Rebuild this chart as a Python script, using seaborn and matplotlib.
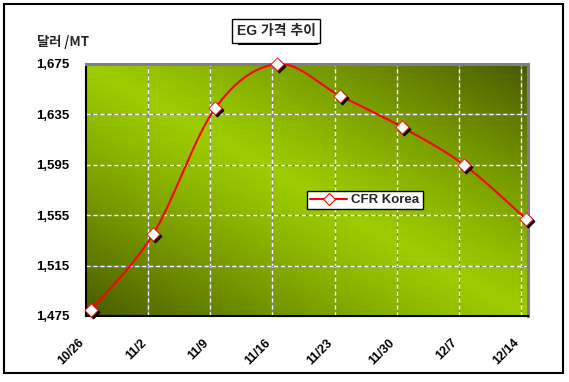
import numpy as np
import pandas as pd
import matplotlib
matplotlib.use("Agg")
import matplotlib.pyplot as plt
import matplotlib.transforms as mtransforms
from matplotlib.lines import Line2D
from matplotlib.patches import Rectangle
import seaborn as sns

# ---- data ----
dates = ["10/26", "11/2", "11/9", "11/16", "11/23", "11/30", "12/7", "12/14"]
cfr_korea = [1480, 1540, 1640, 1675, 1650, 1625, 1595, 1552]
y_ticks = [1475, 1515, 1555, 1595, 1635, 1675]
series_name = "CFR Korea"
title_text = "EG 가격 추이"
unit_text = "달러 /MT"

sns.set_theme(style="white")
plt.rcParams['font.family'] = ['Liberation Sans', 'Noto Sans CJK KR', 'DejaVu Sans']

W, H = 569, 382
fig = plt.figure(figsize=(W / 100, H / 100), dpi=100)
fig.patch.set_facecolor("white")

L, R, T, B = 86, 528, 64, 316
ax = fig.add_axes([L / W, 1 - B / H, (R - L) / W, (B - T) / H])

xs = np.arange(len(dates), dtype=float)
ys = np.array(cfr_korea, dtype=float)

x_left, x_right = -0.08, 7.03
ax.set_xlim(x_left, x_right)
ax.set_ylim(y_ticks[0], y_ticks[-1])

# gradient background
bright = np.array([0x9C, 0xCC, 0x00]) / 255
dark = np.array([0x48, 0x5A, 0x00]) / 255
u = np.linspace(0, 1, 300)
v = np.linspace(1, 0, 200)
U, V = np.meshgrid(u, v)
t = np.abs(U + V - 1)
t = np.clip(t, 0, 1) ** 1.2
img = bright[None, None, :] * (1 - t[..., None]) + dark[None, None, :] * t[..., None]
ax.imshow(img, extent=[x_left, x_right, y_ticks[0], y_ticks[-1]], aspect="auto",
          zorder=0, interpolation="bilinear")

# grid
ax.set_yticks(y_ticks)
ax.set_yticklabels([f"{v:,}" for v in y_ticks])
grid_x = xs + x_left
ax.set_xticks(grid_x)
ax.set_xticklabels(dates)
for gx in grid_x[1:]:
    ax.axvline(gx, color="white", lw=1, ls=(0, (3, 2)), gapcolor="#808080", zorder=1)
for gy in y_ticks[1:-1]:
    ax.axhline(gy, color="white", lw=1, ls=(0, (3, 2)), gapcolor="#808080", zorder=1)

# smoothed line (Excel-like Catmull-Rom bezier through the data points)
P = np.column_stack([xs, ys])
Pext = np.vstack([P[0], P, P[-1]])
cx, cy = [], []
tt = np.linspace(0, 1, 30)
for i in range(len(P) - 1):
    p0, p3 = P[i], P[i + 1]
    p1 = p0 + (Pext[i + 2] - Pext[i]) / 6
    p2 = p3 - (Pext[i + 3] - Pext[i + 1]) / 6
    seg = ((1 - tt) ** 3)[:, None] * p0 + (3 * (1 - tt) ** 2 * tt)[:, None] * p1 \
        + (3 * (1 - tt) * tt ** 2)[:, None] * p2 + (tt ** 3)[:, None] * p3
    cx.extend(seg[:, 0]); cy.extend(seg[:, 1])
curve = pd.DataFrame({"x": cx, "y": cy})
sns.lineplot(data=curve, x="x", y="y", ax=ax, color="#FF0000", lw=1.5, sort=False,
             zorder=3, estimator=None)

pts = pd.DataFrame({"x": xs, "y": ys})
shadow = mtransforms.offset_copy(ax.transData, fig=fig, x=2, y=-2, units="dots")
sns.scatterplot(data=pts, x="x", y="y", ax=ax, marker="D", s=45, color="black",
                edgecolor="black", linewidth=0.5, zorder=4, transform=shadow, clip_on=False)
sns.scatterplot(data=pts, x="x", y="y", ax=ax, marker="D", s=45, color="white",
                edgecolor="#FF0000", linewidth=0.6, zorder=5, clip_on=False)

ax.set_xlabel("")
ax.set_ylabel("")

# spines
for s in ["left", "bottom"]:
    ax.spines[s].set_color("black"); ax.spines[s].set_linewidth(1.5)
for s in ["top", "right"]:
    ax.spines[s].set_color("#808080"); ax.spines[s].set_linewidth(2.2)

ax.tick_params(axis="both", length=0)
ax.tick_params(axis="y", pad=12)
ax.tick_params(axis="x", pad=15)
for lab in ax.get_yticklabels():
    lab.set_fontsize(9.5); lab.set_fontweight("bold"); lab.set_color("black")
for lab in ax.get_xticklabels():
    lab.set_fontsize(9); lab.set_fontweight("bold"); lab.set_color("black")
    lab.set_rotation(45); lab.set_ha("right"); lab.set_va("top")
    lab.set_rotation_mode("anchor")
    lab.set_transform(lab.get_transform() + mtransforms.ScaledTranslation(-8 / 100, 0, fig.dpi_scale_trans))

# legend
handle = Line2D([0], [0], color="#FF0000", lw=1.5, marker="D", markersize=6,
                markerfacecolor="white", markeredgecolor="#FF0000", markeredgewidth=0.8)
leg = ax.legend([handle], [series_name], loc="center", bbox_to_anchor=(0.631, 0.46),
                frameon=True, fancybox=False, framealpha=1, edgecolor="black",
                prop={"size": 9.5, "weight": "bold", "family": "Liberation Sans"},
                handlelength=2.8, handletextpad=0.3, borderpad=0.25, borderaxespad=0)
leg.get_frame().set_linewidth(1)
leg.set_zorder(10)

# title box
fig.text(276 / W, 1 - 31 / H, title_text, ha="center", va="center", fontsize=10,
         fontweight="bold", family=["Liberation Sans", "Noto Sans CJK KR"],
         bbox=dict(boxstyle="square,pad=0.35", facecolor="white", edgecolor="black", lw=1))
fig.patches.append(Rectangle((238 / W, 1 - 45 / H), 80 / W, 26 / H, transform=fig.transFigure,
                             facecolor="black", edgecolor="none", zorder=-1))

# unit label
fig.text(37 / W, 1 - 42 / H, unit_text, ha="left", va="center", fontsize=9.5,
         fontweight="bold", family=["Noto Sans CJK KR", "Liberation Sans"])

# outer frame
fig.patches.append(Rectangle((4 / W, 1 - 373 / H), 559 / W, 369 / H, transform=fig.transFigure,
                             facecolor="none", edgecolor="black", lw=1.5))

fig.savefig("out.png", dpi=100, facecolor="white")
